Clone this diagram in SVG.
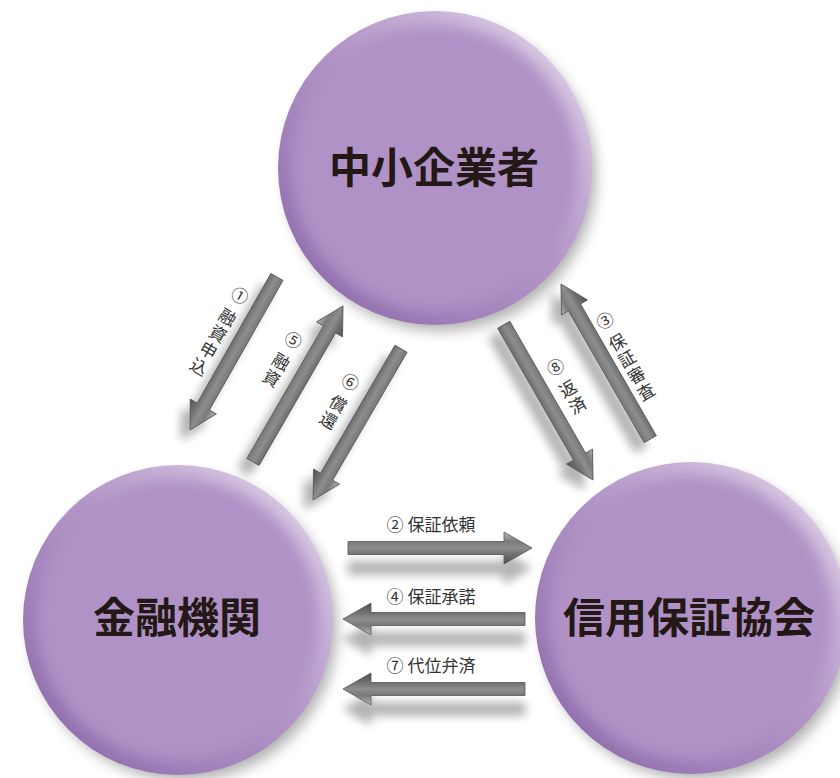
<svg xmlns="http://www.w3.org/2000/svg" width="840" height="778" viewBox="0 0 840 778">
<style>
.big{font-family:"Noto Sans CJK JP","Noto Sans",sans-serif;font-weight:bold;font-size:42px;fill:#231815;text-anchor:middle}
.lbl{font-family:"Noto Sans CJK JP","Noto Sans",sans-serif;font-size:17px;fill:#333;text-anchor:middle}
.vl{font-family:"Noto Sans CJK JP","Noto Sans",sans-serif;font-size:17px;fill:#333;text-anchor:middle;writing-mode:vertical-rl;letter-spacing:2px}
.arr{fill:url(#ag);stroke:#555;stroke-width:0.8;stroke-linejoin:miter}
</style>
<defs>
<linearGradient id="ag" gradientUnits="userSpaceOnUse" x1="0" y1="-16" x2="0" y2="16">
<stop offset="0" stop-color="#b8b8b8"/>
<stop offset="0.3" stop-color="#7a7a7a"/>
<stop offset="0.5" stop-color="#8e8e8e"/>
<stop offset="0.7" stop-color="#707070"/>
<stop offset="1" stop-color="#505050"/>
</linearGradient>
<linearGradient id="rim" x1="1" y1="0" x2="0" y2="1">
<stop offset="0" stop-color="#E6DCEE"/>
<stop offset="0.45" stop-color="#B497C8"/>
<stop offset="1" stop-color="#8663A6"/>
</linearGradient>
<filter id="soft" x="-20%" y="-20%" width="140%" height="140%">
<feGaussianBlur stdDeviation="7"/>
</filter>
<filter id="cshadow" x="-30%" y="-30%" width="160%" height="160%">
<feGaussianBlur stdDeviation="7"/>
</filter>
<filter id="shH" x="-20%" y="-100%" width="140%" height="400%">
<feGaussianBlur in="SourceAlpha" stdDeviation="5"/>
<feOffset dx="0" dy="20"/>
<feComponentTransfer><feFuncA type="linear" slope="0.3"/></feComponentTransfer>
<feMerge><feMergeNode/><feMergeNode in="SourceGraphic"/></feMerge>
</filter>
<filter id="shD" x="-50%" y="-30%" width="200%" height="160%">
<feGaussianBlur in="SourceAlpha" stdDeviation="5"/>
<feOffset dx="-9" dy="10"/>
<feComponentTransfer><feFuncA type="linear" slope="0.3"/></feComponentTransfer>
<feMerge><feMergeNode/><feMergeNode in="SourceGraphic"/></feMerge>
</filter>
</defs>
<rect width="840" height="778" fill="#fff"/>

<g id="connectors">
<g filter="url(#shH)"><polygon class="arr" transform="translate(532,548)" points="-184,-6.5 -28,-6.5 -28,-16 0,0 -28,16 -28,6.5 -184,6.5"/></g>
<g filter="url(#shH)"><polygon class="arr" transform="translate(343,619) rotate(180)" points="-182,-6.5 -28,-6.5 -28,-16 0,0 -28,16 -28,6.5 -182,6.5"/></g>
<g filter="url(#shH)"><polygon class="arr" transform="translate(343,689) rotate(180)" points="-182,-6.5 -28,-6.5 -28,-16 0,0 -28,16 -28,6.5 -182,6.5"/></g>
<g filter="url(#shD)"><polygon class="arr" transform="translate(190,430) rotate(119.6)" points="-176,-7 -27,-7 -27,-15 0,0 -27,15 -27,7 -176,7"/></g>
<g filter="url(#shD)"><polygon class="arr" transform="translate(343,306) rotate(-60)" points="-180,-7 -27,-7 -27,-15 0,0 -27,15 -27,7 -180,7"/></g>
<g filter="url(#shD)"><polygon class="arr" transform="translate(313,500) rotate(120.2)" points="-175,-7 -27,-7 -27,-15 0,0 -27,15 -27,7 -175,7"/></g>
<g filter="url(#shD)"><polygon class="arr" transform="translate(593,480) rotate(60.1)" points="-179,-7 -27,-7 -27,-15 0,0 -27,15 -27,7 -179,7"/></g>
<g filter="url(#shD)"><polygon class="arr" transform="translate(561,284) rotate(-119.9)" points="-179,-7 -27,-7 -27,-15 0,0 -27,15 -27,7 -179,7"/></g>
<text class="lbl" x="431" y="531">② 保証依頼</text>
<text class="lbl" x="431" y="603">④ 保証承諾</text>
<text class="lbl" x="431" y="672">⑦ 代位弁済</text>
<g transform="translate(219,332) rotate(30)"><text class="vl" x="0" y="0">① 融資申込</text></g>
<g transform="translate(282,360) rotate(30)"><text class="vl" x="0" y="0">⑤ 融資</text></g>
<g transform="translate(339,402) rotate(30)"><text class="vl" x="0" y="0">⑥ 償還</text></g>
<g transform="translate(626,357) rotate(-30)"><text class="vl" x="0" y="0">③ 保証審査</text></g>
<g transform="translate(567,387) rotate(-30)"><text class="vl" x="0" y="0">⑧ 返済</text></g>
</g>

<g id="sme">
<circle cx="441" cy="176" r="155" fill="#000" opacity="0.3" filter="url(#cshadow)"/>
<circle cx="435" cy="168" r="157" fill="url(#rim)"/>
<circle cx="435" cy="168" r="143" fill="#B092C6" filter="url(#soft)"/>
<text class="big" x="434" y="183">中小企業者</text>
</g>

<g id="bank">
<circle cx="184" cy="628" r="153" fill="#000" opacity="0.3" filter="url(#cshadow)"/>
<circle cx="178" cy="620" r="155" fill="url(#rim)"/>
<circle cx="178" cy="620" r="141" fill="#B092C6" filter="url(#soft)"/>
<text class="big" x="177" y="633">金融機関</text>
</g>

<g id="guarantee">
<circle cx="697" cy="626" r="154" fill="#000" opacity="0.3" filter="url(#cshadow)"/>
<circle cx="691" cy="618" r="156" fill="url(#rim)"/>
<circle cx="691" cy="618" r="142" fill="#B092C6" filter="url(#soft)"/>
<text class="big" x="689" y="633">信用保証協会</text>
</g>
</svg>
